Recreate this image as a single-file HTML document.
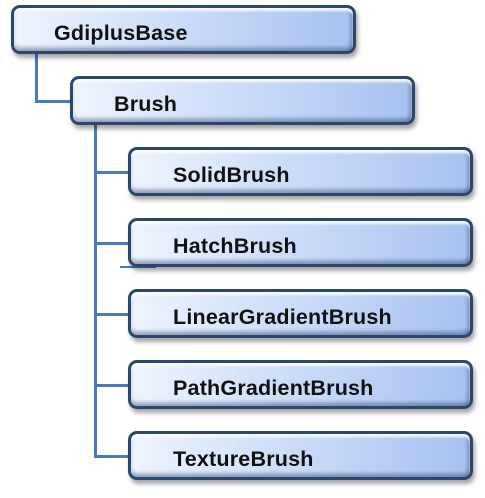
<!DOCTYPE html>
<html><head><style>
body{margin:0;width:485px;height:498px;background:#fff;position:relative;overflow:hidden;font-family:"Liberation Sans","DejaVu Sans",sans-serif;}
.b{position:absolute;width:339px;height:43px;border:3px solid #2b476c;border-radius:9px;
background:linear-gradient(to right,#eef4ff,#c9dbf8 50%,#a8c1ef);
box-shadow:2px 4px 4px rgba(0,0,0,0.35), inset 0 3px 2px rgba(255,255,255,0.9), inset 0 -4px 3px rgba(40,60,100,0.35), inset -3px 0 3px rgba(40,60,100,0.3);
font-weight:bold;font-size:21.5px;line-height:50px;color:#111;box-sizing:content-box;letter-spacing:0.2px}
.l{position:absolute;background:#4a7ab8}
</style></head><body>
<div class="l" style="left:35px;top:53px;width:3px;height:50px"></div>
<div class="l" style="left:35px;top:100px;width:36px;height:3px"></div>
<div class="l" style="left:94px;top:124px;width:3px;height:334px"></div>
<div class="l" style="left:94px;top:171px;width:36px;height:3px"></div>
<div class="l" style="left:94px;top:242px;width:36px;height:3px"></div>
<div class="l" style="left:94px;top:313px;width:36px;height:3px"></div>
<div class="l" style="left:94px;top:384px;width:36px;height:3px"></div>
<div class="l" style="left:94px;top:455px;width:36px;height:3px"></div>
<div class="l" style="left:120px;top:266px;width:36px;height:2px"></div>
<div class="b" style="left:11px;top:5px"><span style="margin-left:40px">GdiplusBase</span></div>
<div class="b" style="left:70px;top:76px"><span style="margin-left:41px">Brush</span></div>
<div class="b" style="left:128px;top:147px"><span style="margin-left:42px">SolidBrush</span></div>
<div class="b" style="left:128px;top:218px"><span style="margin-left:42px">HatchBrush</span></div>
<div class="b" style="left:128px;top:289px"><span style="margin-left:42px">LinearGradientBrush</span></div>
<div class="b" style="left:128px;top:360px"><span style="margin-left:42px">PathGradientBrush</span></div>
<div class="b" style="left:128px;top:431px"><span style="margin-left:42px">TextureBrush</span></div>
</body></html>
